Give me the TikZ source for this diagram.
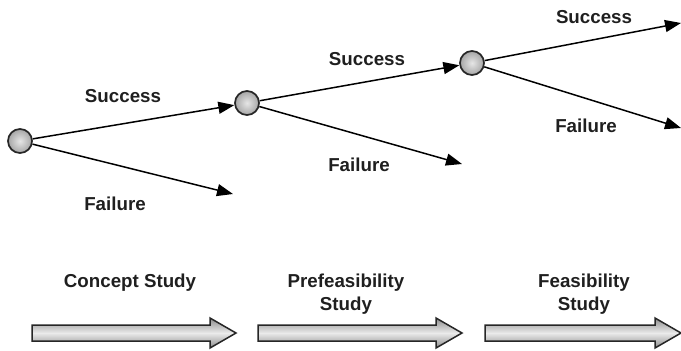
\documentclass[tikz,border=0pt]{standalone}
\usepackage{fontspec}
\setmainfont{Liberation Sans}
\usetikzlibrary{arrows.meta}
\begin{document}
\begin{tikzpicture}[x=1bp,y=-1bp,
  chance/.style={circle,draw=black!85,line width=1.7bp,minimum size=24bp,inner sep=0pt,
    inner color=white!90!black,outer color=black!35},
  branch/.style={line width=1.5bp,-{Triangle[length=16bp,width=12bp]}},
  lbl/.style={font=\fontsize{18.8}{23.5}\selectfont\bfseries,text=black!88,align=center,inner sep=0pt},
  phase/.style={draw=black!85,line width=1.5bp,top color=black!45,bottom color=black!45,middle color=black!8}]
\useasboundingbox (0,0) rectangle (681,350);

% decision chance nodes
\node[chance] (c1) at (20,141) {};
\node[chance] (c2) at (247,103) {};
\node[chance] (c3) at (472,63) {};

% free ends of the failure / final branches
\coordinate (f1) at (233,194);
\coordinate (f2) at (462,164);
\coordinate (s3) at (681,23);
\coordinate (f3) at (681,128);

\draw[branch] (c1) -- (c2);
\draw[branch] (c1) -- (f1);
\draw[branch] (c2) -- (c3);
\draw[branch] (c2) -- (f2);
\draw[branch] (c3) -- (s3);
\draw[branch] (c3) -- (f3);

% branch labels
\node[lbl] (ls1) at (123,96) {Success};
\node[lbl] (lf1) at (115,204) {Failure};
\node[lbl] (ls2) at (367,59) {Success};
\node[lbl] (lf2) at (359,165) {Failure};
\node[lbl] (ls3) at (594,17) {Success};
\node[lbl] (lf3) at (586,126) {Failure};

% phase labels
\node[lbl] (p1) at (130,283) {Concept Study};
\node[lbl] (p2) at (346,294) {Prefeasibility\\Study};
\node[lbl] (p3) at (584,294) {Feasibility\\Study};

% phase arrows
\foreach \x/\t in {32/236, 258/462, 485/681}{
  \pgfmathsetmacro{\h}{\t-26}
  \path[phase] (\x,325) -- (\h,325) -- (\h,318) -- (\t,333) -- (\h,348) -- (\h,341) -- (\x,341) -- cycle;
}
\end{tikzpicture}
\end{document}
